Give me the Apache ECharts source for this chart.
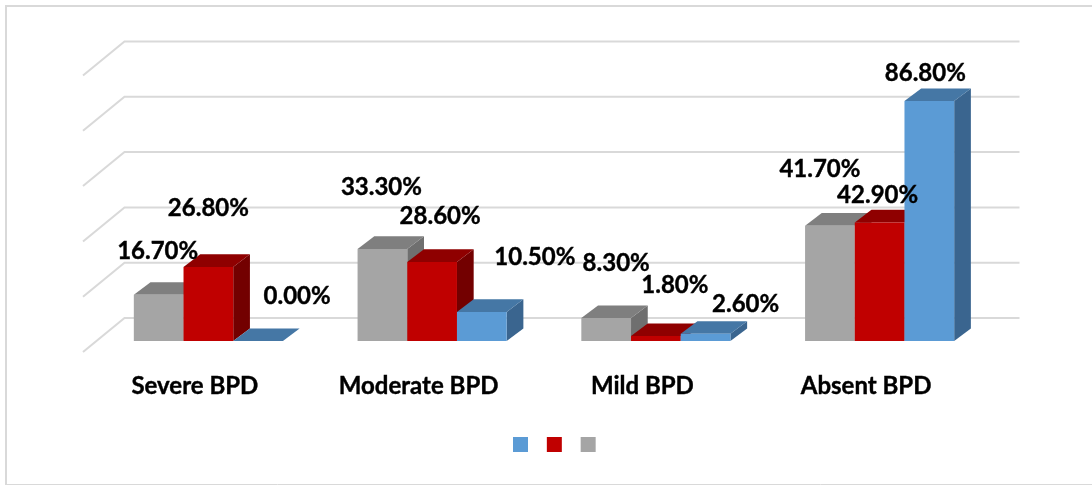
<!DOCTYPE html>
<html>
<head>
<meta charset="utf-8">
<script src="https://cdn.jsdelivr.net/npm/echarts@6/dist/echarts.min.js"></script>
<style>
html, body { margin: 0; padding: 0; background: #fff; }
#chart { width: 1092px; height: 485px; }
</style>
</head>
<body>
<div id="chart"></div>
<script>
var categories = ['Severe BPD', 'Moderate BPD', 'Mild BPD', 'Absent BPD'];
var grayValues = [16.7, 33.3, 8.3, 41.7];
var redValues = [26.8, 28.6, 1.8, 42.9];
var blueValues = [0, 10.5, 2.6, 86.8];
var yTicks = [0, 20, 40, 60, 80, 100];

// label position relative to the bar top, moved by hand in the original
var grayNudge = [[-1, -44], [-1, -62], [10, -55], [-10, -56]];
var redNudge = [[0, -59], [8, -46], [19, -51], [-2, -27]];
var blueNudge = [[39, -45], [53, -55], [40, -30], [-4, -28]];

// floor depth
var wallDx = 41.5, wallDy = 34;
var barX = 13.5, barY = 11;
var depthX = 16.7, depthY = 12.6;
var barWidth = 49.7;

function wallItem(params, api) {
	var cs = params.coordSys;
	var y = api.coord([0, api.value(0)])[1];
	return {
		type: 'polyline',
		silent: true,
		shape: { points: [[cs.x, y], [cs.x + wallDx, y - wallDy], [cs.x + cs.width + wallDx, y - wallDy]] },
		style: { fill: null, stroke: '#d9d9d9', lineWidth: 2 }
	};
}

function barItem(slot, front, top, side) {
	return function(params, api) {
		var p = api.coord([api.value(0), api.value(1)]);
		var base = api.coord([api.value(0), 0]);
		var x0 = p[0] + barX + (slot - 1.5) * barWidth;
		var x1 = x0 + barWidth;
		var y0 = p[1] - barY;
		var y1 = base[1] - barY;
		return {
			type: 'group',
			children: [
				{ type: 'polygon', shape: { points: [[x1, y0], [x1 + depthX, y0 - depthY], [x1 + depthX, y1 - depthY], [x1, y1]] }, style: { fill: side } },
				{ type: 'polygon', shape: { points: [[x0, y0], [x0 + depthX, y0 - depthY], [x1 + depthX, y0 - depthY], [x1, y0]] }, style: { fill: top } },
				{ type: 'rect', shape: { x: x0, y: y0, width: barWidth, height: y1 - y0 }, style: { fill: front } }
			]
		};
	};
}

function labelItem(slot, nudge) {
	return function(params, api) {
		var p = api.coord([api.value(0), api.value(1)]);
		var n = nudge[params.dataIndex];
		return {
			type: 'text',
			silent: true,
			x: p[0] + barX + (slot - 1) * barWidth + n[0],
			y: p[1] - barY + n[1],
			style: {
				text: api.value(1).toFixed(2) + '%',
				fill: '#000',
				stroke: '#000',
				lineWidth: 0.4,
				font: 'bold 24px Lato',
				align: 'center',
				verticalAlign: 'middle'
			}
		};
	};
}

function pairs(values) {
	return values.map(function(v, i) { return [i, v]; });
}

var myChart = echarts.init(document.getElementById('chart'));
var option = {
	animation: false,
	backgroundColor: '#fff',
	graphic: [
		{ type: 'polyline', silent: true, shape: { points: [[6, 485], [6, 6], [1092, 6]] }, style: { fill: null, stroke: '#d9d9d9', lineWidth: 2 } },
		{ type: 'line', silent: true, shape: { x1: 6, y1: 484.5, x2: 1092, y2: 484.5 }, style: { stroke: '#d9d9d9', lineWidth: 1 } }
	],
	grid: { left: 83, top: 75.5, width: 895, height: 276.5 },
	legend: {
		data: ['Blue', 'Red', 'Gray'],
		left: 513,
		top: 437,
		itemWidth: 15,
		itemHeight: 15,
		itemGap: 10.5,
		icon: 'rect',
		formatter: function() { return ' '; },
		textStyle: { fontSize: 12, padding: 0 },
		selectedMode: false,
		padding: 0
	},
	xAxis: {
		type: 'category',
		data: categories,
		axisLine: { show: false },
		axisTick: { show: false },
		axisLabel: {
			margin: 22,
			color: '#000',
			fontFamily: 'Lato',
			fontWeight: 'bold',
			fontSize: 24,
			textBorderColor: '#000',
			textBorderWidth: 0.4
		}
	},
	yAxis: {
		type: 'value',
		min: 0,
		max: 100,
		interval: 20,
		axisLine: { show: false },
		axisTick: { show: false },
		axisLabel: { show: false },
		splitLine: { show: false }
	},
	series: [
		{ type: 'custom', name: 'wall', data: yTicks.map(function(v) { return [v]; }), encode: { y: 0 }, renderItem: wallItem, silent: true, z: 1 },
		{ type: 'custom', name: 'Gray', data: pairs(grayValues), renderItem: barItem(0, '#a5a5a5', '#7f7f7f', '#6f6f6f'), itemStyle: { color: '#a5a5a5' }, z: 2 },
		{ type: 'custom', name: 'Red', data: pairs(redValues), renderItem: barItem(1, '#c00000', '#8f0000', '#730000'), itemStyle: { color: '#c00000' }, z: 3 },
		{ type: 'custom', name: 'Blue', data: pairs(blueValues), renderItem: barItem(2, '#5b9bd5', '#4577a5', '#3a658f'), itemStyle: { color: '#5b9bd5' }, z: 4 },
		{ type: 'custom', name: 'grayLabels', data: pairs(grayValues), renderItem: labelItem(0, grayNudge), silent: true, z: 5 },
		{ type: 'custom', name: 'redLabels', data: pairs(redValues), renderItem: labelItem(1, redNudge), silent: true, z: 5 },
		{ type: 'custom', name: 'blueLabels', data: pairs(blueValues), renderItem: labelItem(2, blueNudge), silent: true, z: 5 }
	]
};
myChart.setOption(option);
</script>
</body>
</html>
